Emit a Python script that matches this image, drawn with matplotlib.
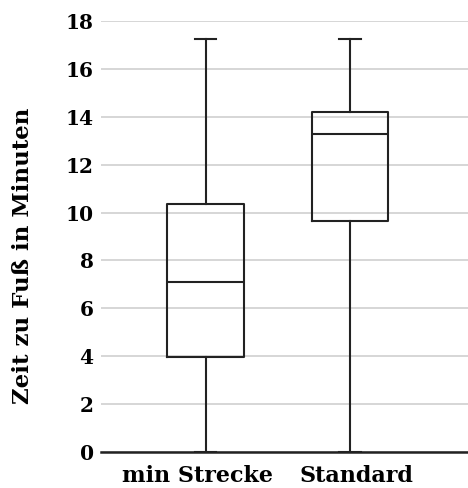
import matplotlib
matplotlib.use("Agg")
import matplotlib.pyplot as plt

# box plot values
groups = ["min Strecke", "Standard"]
whisker_low = [0.0, 0.0]
q1 = [3.96, 9.65]
median = [7.11, 13.29]
q3 = [10.35, 14.2]
whisker_high = [17.24, 17.24]
y_ticks = [0, 2, 4, 6, 8, 10, 12, 14, 16, 18]

plt.rcParams["font.family"] = ["DejaVu Serif"]
plt.rcParams["font.weight"] = "bold"
plt.rcParams["axes.labelweight"] = "bold"

stats = []
for i in range(len(groups)):
    stats.append({
        "label": groups[i],
        "whislo": whisker_low[i],
        "q1": q1[i],
        "med": median[i],
        "q3": q3[i],
        "whishi": whisker_high[i],
        "fliers": [],
    })

fig = plt.figure(figsize=(4.68, 4.88), dpi=100)
ax = fig.add_axes([0.215, 0.0732, 0.785, 0.8844])

line = dict(color="#222222", linewidth=1.5)
ax.bxp(stats, positions=[1, 2], widths=0.53, showfliers=False,
       boxprops=line, medianprops=line, whiskerprops=line,
       capprops=line, capwidths=0.15, zorder=3)

ax.set_xlim(0.272, 2.818)
ax.set_ylim(0, 18)
ax.set_yticks(y_ticks)
# labels sit a little apart from the box centres in the original
ax.set_xticks([0.946, 2.048])
ax.set_xticklabels(groups)
ax.yaxis.grid(True, color="#cfcfcf", linewidth=1.2, zorder=0)
ax.set_axisbelow(True)

for s in ["top", "right", "left"]:
    ax.spines[s].set_visible(False)
ax.spines["bottom"].set_color("#222222")
ax.spines["bottom"].set_linewidth(1.8)
ax.spines["bottom"].set_zorder(4)

ax.tick_params(axis="y", length=0, labelsize=14.5, pad=5)
ax.tick_params(axis="x", length=0, labelsize=16, pad=9)
ax.set_ylabel("Zeit zu Fuß in Minuten", fontsize=16.5)
ax.yaxis.set_label_coords(-0.18, 0.455)

fig.savefig("out.png", dpi=100)
